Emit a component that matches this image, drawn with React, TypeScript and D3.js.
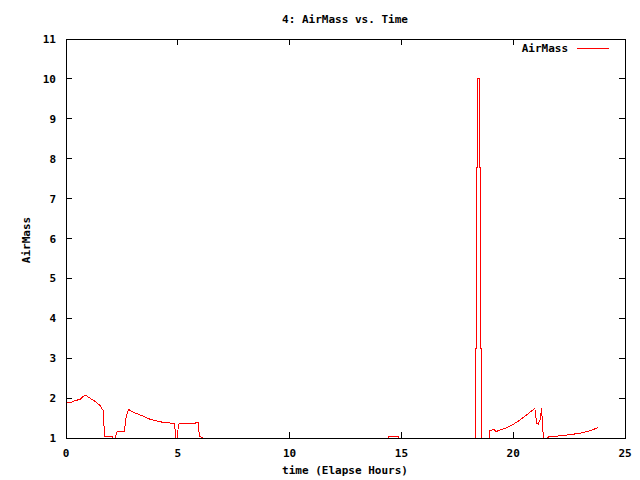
import * as d3 from "d3";

// chart size and plot box (gnuplot-like layout)
const width = 640;
const height = 480;
const marginLeft = 66;
const marginRight = 15;
const marginTop = 39;
const marginBottom = 42;

const title = "4: AirMass vs. Time";
const xLabel = "time (Elapse Hours)";
const yLabel = "AirMass";
const seriesName = "AirMass";

const xTicks = [0, 5, 10, 15, 20, 25];
const yTicks = [1, 2, 3, 4, 5, 6, 7, 8, 9, 10, 11];

// elapsed hours and air mass (values under 1 fall below the frame)
const hours = [
  0, 0.27, 0.3, 0.63, 0.85, 1.07, 1.29, 1.52, 1.61, 1.67, 1.72, 2.0, 2.04, 2.1, 2.19, 2.29,
  2.61, 2.68, 2.79, 2.94, 3.31, 3.76, 4.28, 4.73, 4.87, 4.92, 5.02, 5.92, 5.96, 6.14, 6.2,
  10.0, 14.35, 14.42, 14.88, 14.92, 18.0,
  18.32, 18.32, 18.35, 18.35, 18.41, 18.41, 18.5, 18.5, 18.53, 18.53, 18.57, 18.57,
  18.85, 18.96, 19.14, 19.23, 19.41, 19.71, 20.0, 20.3, 20.6, 20.97, 21.05, 21.12, 21.2,
  21.27, 21.32, 21.38, 21.5, 21.57, 22.24, 22.99, 23.43, 23.8,
];
const airMass = [
  1.9, 1.9, 1.92, 1.97, 2.08, 2.0, 1.92, 1.82, 1.72, 1.7, 1.03, 1.05, 1.05, 1.0, 1.0, 1.16,
  1.16, 1.5, 1.72, 1.66, 1.58, 1.47, 1.4, 1.37, 1.37, 0.0, 1.35, 1.38, 1.05, 1.0, 0.0,
  0.0, 0.0, 1.04, 1.04, 0.0, 0.0,
  0.0, 3.25, 3.25, 7.77, 7.77, 10.0, 10.0, 7.77, 7.77, 3.25, 3.25, 0.0,
  0.0, 1.18, 1.22, 1.16, 1.2, 1.26, 1.34, 1.45, 1.58, 1.74, 1.37, 1.35, 1.45,
  1.74, 1.2, 1.0, 0.95, 1.03, 1.06, 1.12, 1.18, 1.26,
];

const font = "'DejaVu Sans Mono', monospace";

const App = () => {
  const x = d3
    .scaleLinear()
    .domain([0, 25])
    .range([marginLeft, width - marginRight]);

  const y = d3
    .scaleLinear()
    .domain([1, 11])
    .range([height - marginBottom, marginTop]);

  const points: [number, number][] = hours.map((h, i) => [h, airMass[i]]);
  const line = d3
    .line<[number, number]>()
    .x((d) => x(d[0]))
    .y((d) => y(d[1]));

  const left = x(0);
  const right = x(25);
  const top = y(11);
  const bottom = y(1);
  const tick = 6;

  return (
    <svg
      width={width}
      height={height}
      style={{ position: "absolute", left: 0, top: 0, background: "#fff" }}
      fontFamily={font}
      fontSize={11}
    >
      <defs>
        <clipPath id="plot">
          <rect x={left} y={top} width={right - left} height={bottom - top} />
        </clipPath>
      </defs>

      <text x={345} y={23} textAnchor="middle" fontWeight="bold">
        {title}
      </text>

      {/* y ticks, mirrored on the right */}
      <g stroke="#000" shapeRendering="crispEdges">
        {yTicks.map((t) => (
          <g key={"y" + t}>
            <line x1={left} x2={left + tick} y1={y(t)} y2={y(t)} />
            <line x1={right} x2={right - tick} y1={y(t)} y2={y(t)} />
          </g>
        ))}
        {xTicks.map((t) => (
          <g key={"x" + t}>
            <line x1={x(t)} x2={x(t)} y1={bottom} y2={bottom - tick} />
            <line x1={x(t)} x2={x(t)} y1={top} y2={top + tick} />
          </g>
        ))}
      </g>

      <g fontWeight="bold">
        {yTicks.map((t) => (
          <text key={"yl" + t} x={left - 10} y={y(t) + 4} textAnchor="end">
            {t}
          </text>
        ))}
        {xTicks.map((t) => (
          <text key={"xl" + t} x={x(t)} y={bottom + 19} textAnchor="middle">
            {t}
          </text>
        ))}
        <text x={345} y={474} textAnchor="middle">
          {xLabel}
        </text>
        <text transform="translate(30,240) rotate(-90)" textAnchor="middle">
          {yLabel}
        </text>
      </g>

      {/* legend */}
      <text x={568} y={52} textAnchor="end" fontWeight="bold">
        {seriesName}
      </text>
      <line x1={577} x2={609} y1={48} y2={48} stroke="#f00" shapeRendering="crispEdges" />

      <path
        d={line(points) ?? ""}
        fill="none"
        stroke="#f00"
        strokeWidth={1}
        shapeRendering="crispEdges"
        clipPath="url(#plot)"
      />

      <rect
        x={left}
        y={top}
        width={right - left}
        height={bottom - top}
        fill="none"
        stroke="#000"
        shapeRendering="crispEdges"
      />
    </svg>
  );
};

export default App;
